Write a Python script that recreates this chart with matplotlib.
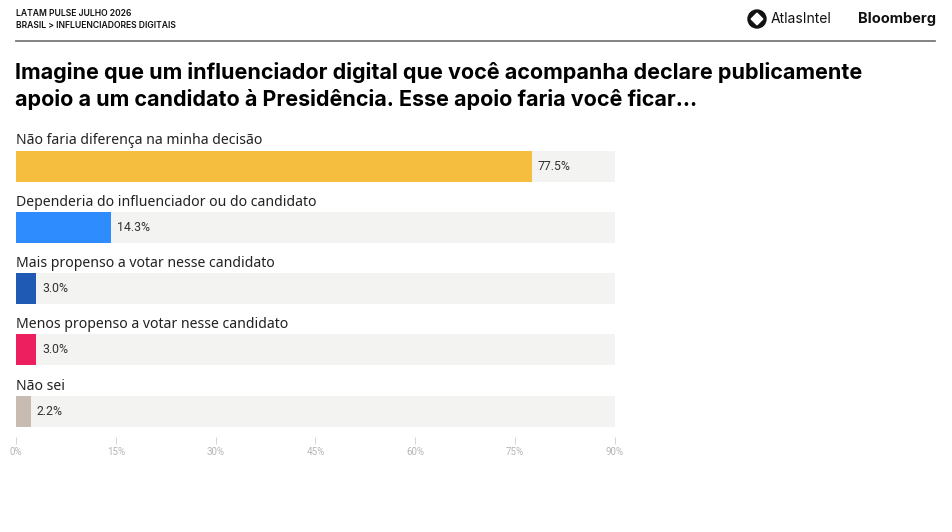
import matplotlib
matplotlib.use("Agg")
import matplotlib.pyplot as plt
from matplotlib.patches import Circle, RegularPolygon

W, H = 953, 532

categories = [
    "Não faria diferença na minha decisão",
    "Dependeria do influenciador ou do candidato",
    "Mais propenso a votar nesse candidato",
    "Menos propenso a votar nesse candidato",
    "Não sei",
]
values = [77.5, 14.3, 3.0, 3.0, 2.2]
colors = ["#F6BE3F", "#2F8CFF", "#1F5AB4", "#EE1F5E", "#C8BBB2"]
ticks = [0, 15, 30, 45, 60, 75, 90]
tick_labels = ["0%", "15%", "30%", "45%", "60%", "75%", "90%"]

header_1 = "LATAM PULSE JULHO 2026"
header_2 = "BRASIL > INFLUENCIADORES DIGITAIS"
title = ("Imagine que um influenciador digital que você acompanha declare publicamente\n"
         "apoio a um candidato à Presidência. Esse apoio faria você ficar...")

plt.rcParams["font.family"] = ["Inter", "DejaVu Sans"]

fig = plt.figure(figsize=(W / 100, H / 100), dpi=100)


def fx(px):
    return px / W


def fy(py):
    return 1 - py / H


# header
fig.text(fx(16), fy(13), header_1, fontsize=6.2, fontweight="semibold", va="center", color="#111")
fig.text(fx(16), fy(25), header_2, fontsize=6.2, fontweight="semibold", va="center", color="#111")
fig.add_artist(plt.Line2D([fx(16), fx(935)], [fy(41), fy(41)], color="#7a7a7a", lw=1.3,
                          transform=fig.transFigure))

# logos (inches, so the circle stays round)
fig.add_artist(Circle((7.57, (H - 19) / 100), 0.09, transform=fig.dpi_scale_trans, color="#111"))
fig.add_artist(RegularPolygon((7.57, (H - 19) / 100), 4, radius=0.058, orientation=0,
                              transform=fig.dpi_scale_trans, color="white"))
fig.text(fx(771), fy(19), "AtlasIntel", fontsize=10, va="center", color="#111")
fig.text(fx(936), fy(19), "Bloomberg", fontsize=10.5, fontweight="bold", va="center", ha="right", color="#111")

# title
fig.text(fx(15), fy(86), title, fontsize=15.5, fontweight="bold", va="center", color="#000",
         linespacing=1.3)

# bars
top, bottom, left, right = 135, 437, 16, 615
ax = fig.add_axes([fx(left), fy(bottom), fx(right) - fx(left), (bottom - top) / H])
step = 61.3
bh = 31 / step
n = len(categories)
pos = list(range(n))
ax.barh(pos, [ticks[-1]] * n, height=bh, color="#F3F3F2", zorder=1)
ax.barh(pos, values, height=bh, color=colors, zorder=2)
for i, (cat, v) in enumerate(zip(categories, values)):
    ax.text(0, i - 0.41, cat, fontsize=10.1, va="center", ha="left", color="#222",
            family=["Noto Sans", "DejaVu Sans"])
    ax.text(v + 0.9, i, f"{v:.1f}%", fontsize=8.8, va="center", ha="left", color="#333",
            family=["Roboto", "DejaVu Sans"])

ax.set_xlim(0, ticks[-1])
ax.set_ylim(4.42, -0.506)
for s in ax.spines.values():
    s.set_visible(False)
ax.set_yticks([])
ax.set_xticks(ticks)
ax.set_xticklabels(tick_labels, family=["Roboto", "DejaVu Sans"])
ax.tick_params(axis="x", length=5, width=0.6, color="#cfcfcf", labelcolor="#b5b5b5",
               labelsize=7, pad=2)

fig.savefig("out.png", dpi=100, facecolor="white")
